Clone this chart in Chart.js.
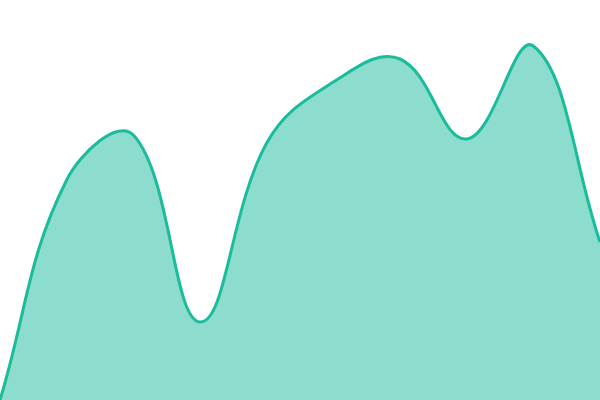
<!DOCTYPE html>
<html>
<head>
<meta charset="utf-8">
<script src="https://cdn.jsdelivr.net/npm/chart.js@4"></script>
<style>
  html, body { margin: 0; padding: 0; background: #fff; }
  #wrap { width: 600px; height: 400px; }
</style>
</head>
<body>
<div id="wrap"><canvas id="myChart"></canvas></div>
<script>
'use strict';

// values, 10 evenly spaced points
const labels = ['1', '2', '3', '4', '5', '6', '7', '8', '9', '10'];
const values = [0, 220, 265, 78, 257, 318, 341, 261, 354, 158];

const lineColor = 'rgb(26, 188, 156)';
const fillColor = 'rgba(26, 188, 156, 0.5)';

let ctx = document.getElementById('myChart');
let chart = new Chart(ctx, {
  type: 'line',
  data: {
    labels: labels,
    datasets: [{
      data: values,
      borderColor: lineColor,
      backgroundColor: fillColor,
      borderWidth: 3,
      fill: 'origin',
      tension: 0.4,
      pointRadius: 0
    }]
  },
  options: {
    responsive: true,
    maintainAspectRatio: false,
    animation: false,
    layout: { padding: 0 },
    plugins: { legend: { display: false }, tooltip: { enabled: false } },
    scales: {
      x: { display: false },
      y: { display: false, min: 0, max: 400 }
    }
  }
});
</script>
</body>
</html>
